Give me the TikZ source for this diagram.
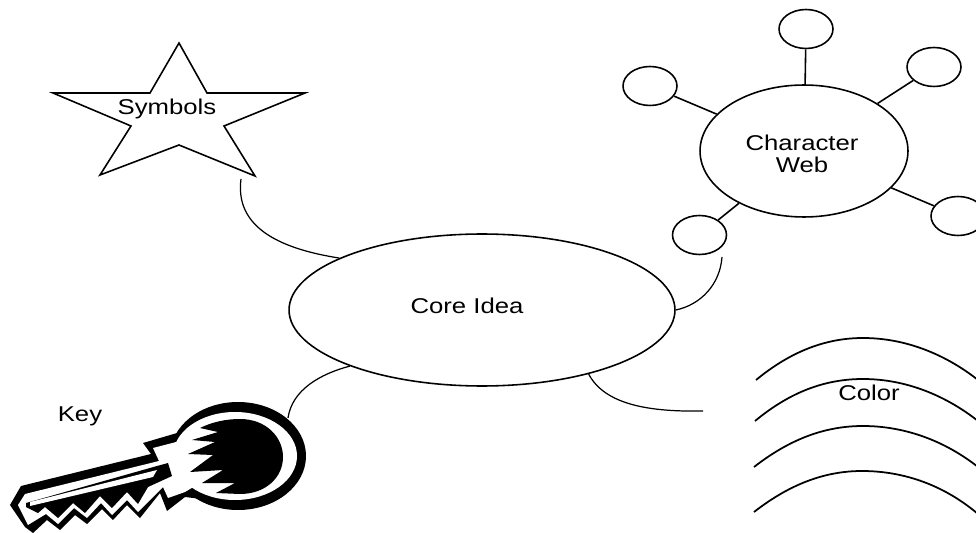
\documentclass[tikz,border=0pt]{standalone}
\usepackage{fontspec}
\setmainfont[FakeStretch=1.2]{Liberation Sans}
\usetikzlibrary{shapes.geometric}
\tikzset{
 bubble/.style={draw,ellipse,inner sep=0pt,line width=.9pt},
 spoke/.style={line width=.9pt},
 branch/.style={line width=.7pt},
 band/.style={line width=1pt},
 tag/.style={font=\fontsize{12.2}{12.5}\selectfont,align=center,inner sep=0pt}
}
\begin{document}
\begin{tikzpicture}[x=.02cm,y=-.02cm]
\clip (0,0) rectangle (976,533);
\fill[white] (0,0) rectangle (976,533);
% star
\draw[line width=.9pt,line join=miter] (179,43)--(207,93)--(305,93)--(224,126)--(255,176)--(179,145)--(100,175)--(131,126)--(53,93)--(150,93)--cycle;
\node[tag] (symbols) at (167,109) {Symbols};
\coordinate (starend) at (241,179);
% core
\node[bubble,minimum width=7.72cm,minimum height=3.04cm] (core) at (482,310) {};
\node[tag] (coretext) at (467,306) {Core Idea};
% web
\node[bubble,minimum width=4.16cm,minimum height=2.64cm] (web) at (804,151) {};
\node[tag] (webtext) at (802,154) {Character\\Web};
\node[bubble,minimum width=1.08cm,minimum height=.78cm] (top) at (806,29) {};
\node[bubble,minimum width=1.08cm,minimum height=.78cm] (right) at (934,67) {};
\node[bubble,minimum width=1.08cm,minimum height=.78cm] (left) at (650,86) {};
\node[bubble,minimum width=1.08cm,minimum height=.78cm] (low) at (699.5,235) {};
\node[bubble,minimum width=1.08cm,minimum height=.78cm] (lowright) at (958,216) {};
\draw[spoke] (top)--(web);
\draw[spoke] (right)--(web);
\draw[spoke] (left)--(web);
\draw[spoke] (low)--(web);
\draw[spoke] (lowright)--(web);
\coordinate (lowend) at (722,257);
\coordinate (colorend) at (703,411);
\coordinate (keyend) at (288,418);
\draw[branch] (starend) .. controls (235,225) and (275,248) .. (core.160.5);
\draw[branch] (lowend) .. controls (720,285) and (700,305) .. (core.-0.6);
\draw[branch] (core.-31.5) .. controls (605,405) and (650,412) .. (colorend);
\draw[branch] (keyend) .. controls (292,390) and (320,374) .. (core.203.3);
% color
\draw[band] (756,380) .. controls (790,352) and (825,338) .. (863,338) .. controls (905,338) and (945,354) .. (978,380);
\draw[band] (755,421) .. controls (790,392) and (825,379) .. (863,379) .. controls (905,379) and (945,395) .. (978,421);
\draw[band] (754,467) .. controls (790,439) and (825,426) .. (863,426) .. controls (905,426) and (945,441) .. (978,467);
\draw[band] (754,512) .. controls (790,484) and (825,471) .. (862,471) .. controls (905,471) and (945,486) .. (978,514);
\node[tag] (color) at (869,393) {Color};
% key
\node[tag] (key) at (80,416) {Key};
\fill (238,456) ellipse [x radius=68,y radius=54];
\fill (177,433)--(143,443)--(151,454)--(21,486)--(10,505)--(25,527)--(33,533)--(47,520)--(60,530)--(75,515)--(87,524)--(102,509)--(113,520)--(127,505)--(140,518)--(160,493)--(167,511)--(185,497)--(210,500)--cycle;
\fill[white] (235,456) ellipse [x radius=62,y radius=44];
\fill[white] (180,441)--(153,448)--(159,461)--(25,494)--(18,505)--(28,525)--(46,514)--(58,524)--(74,508)--(87,518)--(101,503)--(112,515)--(127,500)--(138,512)--(163,487)--(168,498)--(185,492)--(205,480)--cycle;
\fill (26,503)--(157,466)--(168,463)--(172,476)--(148,487)--(138,504)--(127,492)--(112,508)--(100,496)--(85,513)--(73,503)--(58,518)--(45,507)--(38,513)--(26,507)--cycle;
\fill[white] (157,470)--(153,477)--(30,506)--(30,502)--cycle;
\fill (200,428)--(218,432)--(192,440)--(215,442)--(188,454)--(213,455)--(190,472)--(223,470)--(202,483)--(235,483)--(216,493)--(240,494) .. controls (265,494) and (283,478) .. (283,457) .. controls (283,437) and (266,419) .. (240,419) .. controls (226,419) and (212,422) .. (200,428)--cycle;
\end{tikzpicture}
\end{document}
